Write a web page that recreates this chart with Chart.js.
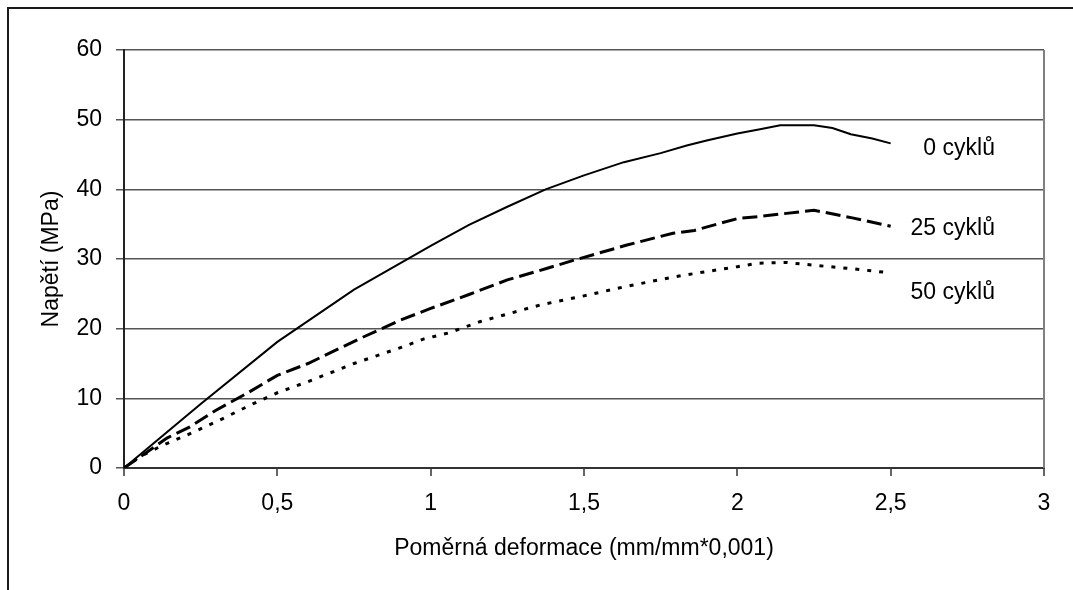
<!DOCTYPE html>
<html>
<head>
<meta charset="utf-8">
<script src="https://cdn.jsdelivr.net/npm/chart.js@4.4.1/dist/chart.umd.min.js"></script>
<style>
  html, body { margin: 0; padding: 0; background: #fff; }
  #wrap { width: 1073px; height: 590px; }
</style>
</head>
<body>
<div id="wrap"><canvas id="chart" width="1073" height="590"></canvas></div>
<script>
// 0 cyklů
const strain0 = [0, 0.25, 0.5, 0.75, 1.0, 1.125, 1.25, 1.375, 1.5, 1.63, 1.75, 1.835, 1.9, 2.0, 2.07, 2.14, 2.25, 2.31, 2.37, 2.44, 2.5];
const stress0 = [0, 9.2, 18.1, 25.6, 31.9, 34.9, 37.5, 40.0, 42.0, 43.9, 45.2, 46.3, 47.0, 48.0, 48.6, 49.2, 49.2, 48.8, 47.9, 47.3, 46.6];

// 25 cyklů
const strain25 = [0, 0.05, 0.14, 0.215, 0.3, 0.4, 0.5, 0.6, 0.77, 0.9, 1.0, 1.125, 1.25, 1.375, 1.465, 1.64, 1.79, 1.86, 2.0, 2.07, 2.15, 2.25, 2.375, 2.5];
const stress25 = [0, 1.5, 4.3, 5.9, 8.3, 10.7, 13.3, 15.0, 18.6, 21.2, 22.9, 24.9, 27.0, 28.6, 29.8, 32.0, 33.7, 34.1, 35.8, 36.1, 36.5, 37.0, 35.9, 34.7];

// 50 cyklů
const strain50 = [0, 0.05, 0.128, 0.204, 0.313, 0.42, 0.5, 0.6, 0.75, 0.91, 0.976, 1.06, 1.16, 1.357, 1.51, 1.63, 1.79, 1.9, 2.0, 2.07, 2.16, 2.25, 2.375, 2.5];
const stress50 = [0, 1.6, 3.3, 4.7, 6.9, 9.2, 10.8, 12.4, 15.0, 17.4, 18.5, 19.4, 21.0, 23.4, 24.8, 26.0, 27.4, 28.2, 28.9, 29.4, 29.5, 29.1, 28.6, 28.0];

const seriesNames = ["0 cyklů", "25 cyklů", "50 cyklů"];
const xTickLabels = ["0", "0,5", "1", "1,5", "2", "2,5", "3"];
const yTickLabels = ["0", "10", "20", "30", "40", "50", "60"];

const FONT = "'Liberation Sans', Arial, sans-serif";
const FS = 23;

function toPoints(xs, ys) {
  return xs.map((x, i) => ({ x: x, y: ys[i] }));
}

// popisky sérií vpravo od křivek (pozice v jednotkách os)
const seriesLabelX = 2.84;
const seriesLabelY = [45.9, 34.4, 25.2];

const seriesLabels = {
  id: "seriesLabels",
  afterDatasetsDraw(chart) {
    const { ctx, scales } = chart;
    ctx.save();
    ctx.font = FS + "px " + FONT;
    ctx.fillStyle = "#000";
    ctx.textAlign = "right";
    ctx.textBaseline = "middle";
    seriesNames.forEach((name, i) => {
      ctx.fillText(name, scales.x.getPixelForValue(seriesLabelX), scales.y.getPixelForValue(seriesLabelY[i]));
    });
    ctx.restore();
  },
};

const frame = {
  id: "frame",
  beforeDraw(chart) {
    const { ctx } = chart;
    ctx.save();
    ctx.fillStyle = "#fff";
    ctx.fillRect(0, 0, chart.width, chart.height);
    // vnější rámeček (oříznutý)
    ctx.strokeStyle = "#1a1a1a";
    ctx.lineWidth = 2;
    ctx.beginPath();
    ctx.moveTo(8, chart.height);
    ctx.lineTo(8, 8);
    ctx.lineTo(chart.width, 8);
    ctx.stroke();
    ctx.restore();
  },
  afterDraw(chart) {
    const { ctx, chartArea } = chart;
    ctx.save();
    ctx.strokeStyle = "#808080";
    ctx.lineWidth = 2;
    ctx.beginPath();
    ctx.moveTo(chartArea.right, chartArea.top);
    ctx.lineTo(chartArea.right, chartArea.bottom);
    ctx.stroke();
    ctx.restore();
  },
};

const ctx = document.getElementById("chart").getContext("2d");
new Chart(ctx, {
  type: "scatter",
  data: {
    datasets: [
      {
        label: seriesNames[0],
        data: toPoints(strain0, stress0),
        showLine: true,
        borderColor: "#000",
        borderWidth: 2,
        pointRadius: 0,
        tension: 0,
      },
      {
        label: seriesNames[1],
        data: toPoints(strain25, stress25),
        showLine: true,
        borderColor: "#000",
        borderWidth: 3,
        borderDash: [15, 6],
        pointRadius: 0,
        tension: 0,
      },
      {
        label: seriesNames[2],
        data: toPoints(strain50, stress50),
        showLine: true,
        borderColor: "#000",
        borderWidth: 3,
        borderDash: [4, 8],
        pointRadius: 0,
        tension: 0,
      },
    ],
  },
  options: {
    responsive: false,
    animation: false,
    layout: { padding: { top: 50, right: 29, left: 0, bottom: 0 } },
    plugins: {
      legend: { display: false },
      tooltip: { enabled: false },
    },
    scales: {
      x: {
        type: "linear",
        min: 0,
        max: 3,
        afterFit(scale) { scale.height = 122; },
        afterBuildTicks(scale) {
          scale.ticks = xTickLabels.map((t, i) => ({ value: i * 0.5 }));
        },
        ticks: {
          autoSkip: false,
          padding: 14,
          color: "#000",
          font: { family: FONT, size: FS },
          maxRotation: 0,
          callback: (v, i) => xTickLabels[i],
        },
        grid: {
          drawOnChartArea: false,
          tickLength: 8,
          color: "#666",
          lineWidth: 2,
        },
        border: { display: true, color: "#333", width: 2 },
        title: {
          display: true,
          text: "Poměrná deformace (mm/mm*0,001)",
          color: "#000",
          font: { family: FONT, size: FS },
          padding: { top: 0, bottom: 28 },
        },
      },
      y: {
        type: "linear",
        min: 0,
        max: 60,
        afterFit(scale) { scale.width = 124; },
        afterBuildTicks(scale) {
          scale.ticks = yTickLabels.map((t) => ({ value: Number(t) }));
        },
        ticks: {
          padding: 14,
          color: "#000",
          font: { family: FONT, size: FS },
          callback: (v, i) => yTickLabels[i],
        },
        grid: {
          drawOnChartArea: true,
          tickLength: 8,
          color: "#555",
          lineWidth: 1.5,
        },
        border: { display: true, color: "#222", width: 2 },
        title: {
          display: true,
          text: "Napětí (MPa)",
          color: "#000",
          font: { family: FONT, size: FS },
          padding: { top: 38, bottom: 0 },
        },
      },
    },
  },
  plugins: [frame, seriesLabels],
});
</script>
</body>
</html>
